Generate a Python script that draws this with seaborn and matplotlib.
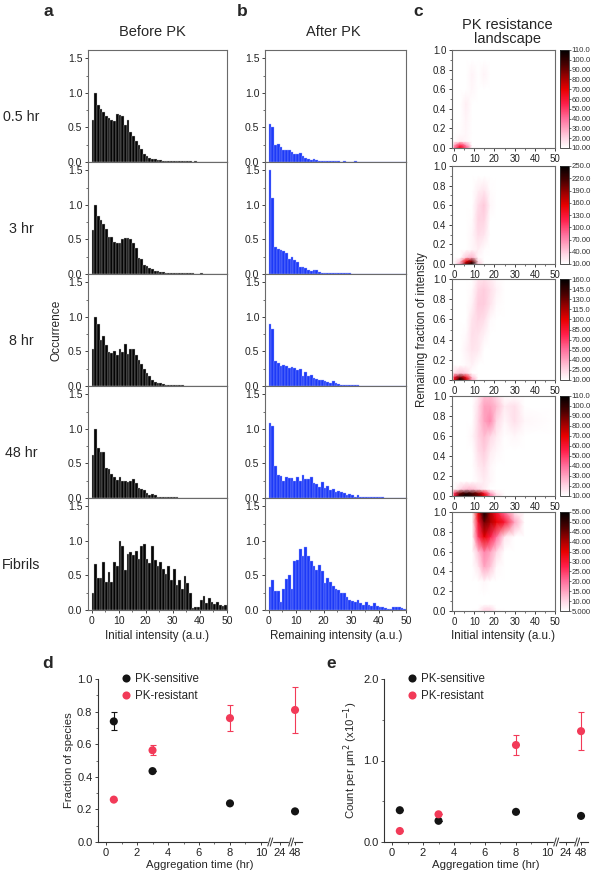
import matplotlib
matplotlib.use("Agg")
import matplotlib.pyplot as plt
import numpy as np
import pandas as pd
import seaborn as sns
from matplotlib.colors import LinearSegmentedColormap, Normalize
from matplotlib.ticker import MultipleLocator, FixedLocator
import matplotlib.transforms as mtransforms

# ---------------- data ----------------
row_labels = ["0.5 hr", "3 hr", "8 hr", "48 hr", "Fibrils"]
bin_left = list(range(0, 50))   # 1 a.u. wide bins, 0..50

before_05 = [0.61, 1.00, 0.82, 0.76, 0.72, 0.66, 0.63, 0.61, 0.59, 0.70, 0.68, 0.66, 0.54, 0.61, 0.44, 0.37, 0.30,
             0.25, 0.19, 0.11, 0.08, 0.06, 0.05, 0.04, 0.03, 0.03, 0.02, 0.02, 0.02, 0.02, 0.015, 0.01, 0.015, 0.01,
             0.01, 0.01, 0.01, 0.005, 0.01, 0.005, 0.005, 0.005, 0.005, 0.004, 0.004, 0.003, 0.003, 0.003, 0.002, 0.002]
before_3 = [0.64, 1.00, 0.84, 0.78, 0.72, 0.65, 0.54, 0.54, 0.47, 0.45, 0.45, 0.51, 0.52, 0.52, 0.51, 0.45, 0.38,
            0.23, 0.21, 0.13, 0.11, 0.08, 0.07, 0.05, 0.04, 0.03, 0.03, 0.02, 0.02, 0.02, 0.015, 0.015, 0.01, 0.01,
            0.01, 0.01, 0.01, 0.01, 0.005, 0.005, 0.01, 0.005, 0.005, 0.005, 0.005, 0.005, 0.003, 0.003, 0.003, 0.003]
before_8 = [0.54, 1.00, 0.89, 0.66, 0.72, 0.60, 0.49, 0.48, 0.51, 0.45, 0.53, 0.49, 0.61, 0.46, 0.53, 0.54, 0.45,
            0.38, 0.32, 0.25, 0.19, 0.14, 0.09, 0.06, 0.05, 0.04, 0.03, 0.02, 0.02, 0.015, 0.01, 0.01, 0.01, 0.008,
            0.005, 0.005, 0.005, 0.004, 0.004, 0.003, 0.003, 0.003, 0.002, 0.002, 0.002, 0.002, 0.001, 0.001, 0.001, 0.001]
before_48 = [0.62, 1.00, 0.72, 0.66, 0.66, 0.44, 0.42, 0.35, 0.30, 0.26, 0.31, 0.25, 0.25, 0.23, 0.24, 0.28, 0.22,
             0.14, 0.13, 0.12, 0.07, 0.05, 0.06, 0.04, 0.02, 0.02, 0.015, 0.01, 0.01, 0.01, 0.01, 0.008, 0.006, 0.005,
             0.005, 0.004, 0.004, 0.003, 0.003, 0.003, 0.002, 0.002, 0.002, 0.002, 0.001, 0.001, 0.001, 0.001, 0.001, 0.001]
before_fib = [0.24, 0.67, 0.47, 0.47, 0.70, 0.41, 0.55, 0.41, 0.70, 0.63, 1.00, 0.92, 0.58, 0.81, 0.84, 0.80, 0.86,
              0.74, 0.93, 0.96, 0.74, 0.68, 0.93, 0.72, 0.64, 0.69, 0.59, 0.52, 0.63, 0.43, 0.59, 0.36, 0.44, 0.30,
              0.49, 0.39, 0.24, 0.03, 0.04, 0.04, 0.14, 0.20, 0.10, 0.18, 0.12, 0.08, 0.11, 0.07, 0.06, 0.07]

after_05 = [0.55, 0.51, 0.25, 0.26, 0.21, 0.18, 0.17, 0.18, 0.15, 0.12, 0.11, 0.13, 0.08, 0.06, 0.05, 0.03, 0.05,
            0.03, 0.02, 0.02, 0.01, 0.01, 0.02, 0.01, 0.01, 0.01, 0.005, 0.01, 0.005, 0.005, 0.005, 0.01, 0.005,
            0.005, 0.005, 0.003, 0.003, 0.005, 0.003, 0.003, 0.003, 0.003, 0.002, 0.002, 0.002, 0.002, 0.002, 0.002, 0.002, 0.002]
after_3 = [1.51, 1.10, 0.39, 0.36, 0.35, 0.33, 0.30, 0.21, 0.24, 0.20, 0.17, 0.10, 0.10, 0.09, 0.06, 0.05, 0.06,
           0.06, 0.03, 0.02, 0.02, 0.02, 0.015, 0.01, 0.01, 0.01, 0.01, 0.01, 0.008, 0.008, 0.006, 0.006, 0.005,
           0.005, 0.005, 0.004, 0.004, 0.003, 0.003, 0.003, 0.003, 0.002, 0.002, 0.002, 0.002, 0.002, 0.001, 0.001, 0.001, 0.001]
after_8 = [0.90, 0.83, 0.36, 0.33, 0.29, 0.30, 0.29, 0.26, 0.28, 0.26, 0.23, 0.25, 0.15, 0.20, 0.14, 0.16, 0.12,
           0.10, 0.09, 0.09, 0.07, 0.06, 0.04, 0.07, 0.04, 0.03, 0.02, 0.02, 0.015, 0.01, 0.01, 0.01, 0.008, 0.006,
           0.005, 0.005, 0.004, 0.004, 0.003, 0.003, 0.003, 0.002, 0.002, 0.002, 0.002, 0.002, 0.001, 0.001, 0.001, 0.001]
after_48 = [1.08, 1.04, 0.47, 0.33, 0.32, 0.25, 0.30, 0.29, 0.29, 0.24, 0.30, 0.25, 0.33, 0.27, 0.28, 0.30, 0.21,
            0.20, 0.16, 0.23, 0.14, 0.17, 0.11, 0.13, 0.09, 0.10, 0.09, 0.07, 0.05, 0.06, 0.04, 0.02, 0.04, 0.02,
            0.02, 0.01, 0.02, 0.01, 0.01, 0.01, 0.008, 0.008, 0.006, 0.006, 0.005, 0.005, 0.004, 0.004, 0.003, 0.003]
after_fib = [0.33, 0.43, 0.28, 0.28, 0.12, 0.31, 0.45, 0.51, 0.31, 0.71, 0.73, 0.88, 0.78, 0.91, 0.78, 0.71, 0.64,
             0.58, 0.65, 0.57, 0.39, 0.47, 0.41, 0.34, 0.30, 0.29, 0.24, 0.25, 0.19, 0.15, 0.13, 0.11, 0.14, 0.10,
             0.07, 0.11, 0.07, 0.06, 0.10, 0.06, 0.05, 0.04, 0.03, 0.02, 0.02, 0.05, 0.04, 0.04, 0.03, 0.02]

before_rows = [before_05, before_3, before_8, before_48, before_fib]
after_rows = [after_05, after_3, after_8, after_48, after_fib]

# PK resistance landscape: coarse grid (counts)
land_x = [0, 3, 6, 9, 12, 15, 18, 21, 25, 30, 35, 50]
land_y = [0, 0.03, 0.07, 0.15, 0.3, 0.45, 0.6, 0.75, 0.9, 1.0]
land_05 = [
    [40, 65, 45, 12, 0, 0, 0, 0, 0, 0, 0, 0],
    [30, 55, 35, 10, 0, 0, 0, 0, 0, 0, 0, 0],
    [8, 14, 12, 0, 0, 0, 0, 0, 0, 0, 0, 0],
    [0, 11, 12, 0, 0, 0, 0, 0, 0, 0, 0, 0],
    [0, 0, 13, 0, 0, 0, 0, 0, 0, 0, 0, 0],
    [0, 0, 14, 0, 0, 0, 0, 0, 0, 0, 0, 0],
    [0, 0, 9, 12, 0, 0, 0, 0, 0, 0, 0, 0],
    [0, 0, 0, 13, 0, 13, 0, 0, 0, 0, 0, 0],
    [0, 0, 0, 0, 0, 0, 0, 0, 0, 0, 0, 0],
    [0, 0, 0, 0, 0, 0, 0, 0, 0, 0, 0, 0],
]
land_3 = [
    [0, 60, 200, 245, 40, 0, 0, 0, 0, 0, 0, 0],
    [0, 40, 150, 200, 30, 0, 0, 0, 0, 0, 0, 0],
    [0, 10, 40, 50, 15, 0, 0, 0, 0, 0, 0, 0],
    [0, 0, 0, 15, 20, 12, 0, 0, 0, 0, 0, 0],
    [0, 0, 0, 15, 30, 25, 0, 0, 0, 0, 0, 0],
    [0, 0, 0, 12, 35, 35, 0, 0, 0, 0, 0, 0],
    [0, 0, 0, 0, 30, 40, 15, 0, 0, 0, 0, 0],
    [0, 0, 0, 0, 20, 25, 12, 0, 0, 0, 0, 0],
    [0, 0, 0, 0, 0, 0, 0, 0, 0, 0, 0, 0],
    [0, 0, 0, 0, 0, 0, 0, 0, 0, 0, 0, 0],
]
land_8 = [
    [100, 160, 110, 40, 0, 0, 0, 0, 0, 0, 0, 0],
    [80, 130, 90, 30, 0, 0, 0, 0, 0, 0, 0, 0],
    [20, 30, 25, 10, 0, 0, 0, 0, 0, 0, 0, 0],
    [0, 0, 12, 15, 0, 0, 0, 0, 0, 0, 0, 0],
    [0, 0, 15, 20, 18, 0, 0, 0, 0, 0, 0, 0],
    [0, 0, 12, 22, 20, 15, 0, 0, 0, 0, 0, 0],
    [0, 0, 0, 20, 25, 22, 12, 0, 0, 0, 0, 0],
    [0, 0, 0, 15, 28, 28, 20, 12, 0, 0, 0, 0],
    [0, 0, 0, 12, 25, 28, 22, 15, 0, 0, 0, 0],
    [0, 0, 0, 0, 20, 22, 18, 12, 0, 0, 0, 0],
]
land_48 = [
    [60, 100, 110, 100, 90, 70, 40, 20, 0, 0, 0, 0],
    [50, 90, 100, 95, 85, 60, 30, 15, 0, 0, 0, 0],
    [10, 20, 25, 25, 20, 15, 10, 0, 0, 0, 0, 0],
    [0, 0, 0, 0, 12, 15, 12, 0, 0, 0, 0, 0],
    [0, 0, 0, 0, 15, 18, 12, 0, 0, 0, 0, 0],
    [0, 0, 0, 0, 18, 22, 15, 12, 0, 0, 0, 0],
    [0, 0, 0, 12, 20, 25, 20, 15, 0, 12, 0, 0],
    [0, 0, 0, 0, 20, 30, 35, 20, 12, 18, 12, 0],
    [0, 0, 0, 0, 18, 30, 30, 25, 15, 18, 0, 0],
    [0, 0, 0, 0, 15, 25, 25, 20, 10, 0, 0, 0],
]
land_fib = [
    [0, 0, 0, 0, 6, 10, 10, 6, 0, 0, 0, 0],
    [0, 0, 0, 0, 5, 9, 9, 5, 0, 0, 0, 0],
    [0, 0, 0, 0, 0, 0, 0, 0, 0, 0, 0, 0],
    [0, 0, 0, 0, 0, 0, 0, 0, 0, 0, 0, 0],
    [0, 0, 0, 0, 0, 6, 0, 0, 0, 0, 0, 0],
    [0, 0, 0, 0, 8, 15, 12, 6, 0, 0, 0, 0],
    [0, 0, 0, 0, 12, 18, 15, 10, 0, 0, 0, 0],
    [0, 0, 0, 0, 25, 35, 28, 20, 8, 0, 0, 0],
    [0, 0, 0, 0, 30, 45, 40, 35, 30, 15, 0, 0],
    [0, 0, 0, 0, 35, 55, 40, 30, 20, 8, 0, 0],
]
land_rows = [land_05, land_3, land_8, land_48, land_fib]
cbar_ranges = [(10, 110, 10), (10, 250, 30), (10, 160, 15), (10, 110, 10), (5, 55, 5)]

# panel d / e
time_hr = [0.5, 3, 8, 48]
frac_sensitive = [0.74, 0.435, 0.237, 0.188]
frac_sensitive_err = [0.055, 0.0, 0.0, 0.0]
frac_resistant = [0.26, 0.563, 0.76, 0.81]
frac_resistant_err = [0.0, 0.03, 0.078, 0.14]
count_sensitive = [0.39, 0.26, 0.37, 0.32]
count_sensitive_err = [0.0, 0.0, 0.0, 0.0]
count_resistant = [0.135, 0.34, 1.19, 1.36]
count_resistant_err = [0.0, 0.0, 0.12, 0.23]
time_ticks = [0, 2, 4, 6, 8, 10, 24, 48]
broken_pos = {24: 11.2, 48: 12.2}   # positions of the compressed long times on the broken axis

# ---------------- style ----------------
sns.set_theme(style="ticks")
plt.rcParams["font.family"] = ["Liberation Sans", "DejaVu Sans"]
plt.rcParams.update({
    "axes.edgecolor": "#555555", "axes.linewidth": 0.8,
    "xtick.color": "#333333", "ytick.color": "#333333",
    "xtick.direction": "out", "ytick.direction": "out",
})

W, H = 592, 877
fig = plt.figure(figsize=(W / 100, H / 100), dpi=100, facecolor="white")


def px_box(x0, y0, x1, y1):
    return [x0 / W, 1 - y1 / H, (x1 - x0) / W, (y1 - y0) / H]


def t_pos(t):
    return broken_pos.get(t, t)


def style_ticks(ax, size=7.5):
    ax.tick_params(which="major", length=2.5, width=0.6, labelsize=size, pad=1.5, colors="#222222")
    ax.tick_params(which="minor", length=1.5, width=0.5)


def draw_hist(ax, values, face, edge, last):
    df = pd.DataFrame({"x": [b + 0.5 for b in bin_left], "w": values})
    sns.histplot(data=df, x="x", weights="w", bins=50, binrange=(0, 50), ax=ax, color=face,
                 edgecolor=edge, linewidth=0.25, alpha=1)
    ax.set_xlim(-1.3, 50)
    ax.set_ylim(0, 1.62)
    ax.set_ylabel("")
    ax.set_xlabel("")
    ax.yaxis.set_major_locator(FixedLocator([0, 0.5, 1.0, 1.5]))
    ax.yaxis.set_minor_locator(MultipleLocator(0.25))
    ax.yaxis.set_major_formatter(plt.FuncFormatter(lambda v, p: f"{v:.1f}"))
    ax.xaxis.set_major_locator(MultipleLocator(10))
    ax.xaxis.set_minor_locator(MultipleLocator(5))
    style_ticks(ax)
    if not last:
        ax.set_xticklabels([])
    for s in ax.spines.values():
        s.set_color("#6a6a6a")


# ---------------- panels a & b ----------------
row_tops = [50, 162, 274, 386, 498]
for i, top in enumerate(row_tops):
    last = i == len(row_tops) - 1
    ax_a = fig.add_axes(px_box(88, top, 227, top + 112))
    draw_hist(ax_a, before_rows[i], "#050505", "#c4c4c4", last)
    ax_b = fig.add_axes(px_box(265, top, 406, top + 112))
    draw_hist(ax_b, after_rows[i], "#1d3af7", "#9aa8ff", last)
    fig.text(21 / W, 1 - (top + 67) / H, row_labels[i], ha="center", va="center", fontsize=10.3)

fig.text(57 / W, 1 - 330 / H, "Occurrence", rotation=90, ha="center", va="center", fontsize=8.6)
fig.text(157 / W, 1 - 636 / H, "Initial intensity (a.u.)", ha="center", va="center", fontsize=8.4)
fig.text(336 / W, 1 - 636 / H, "Remaining intensity (a.u.)", ha="center", va="center", fontsize=8.4)
fig.text(152 / W, 1 - 32 / H, "Before PK", ha="center", va="center", fontsize=10.5)
fig.text(333 / W, 1 - 32 / H, "After PK", ha="center", va="center", fontsize=10.5)

# ---------------- panel c ----------------
cmap = LinearSegmentedColormap.from_list("pk", [
    (0.0, "#ffffff"), (0.1, "#ffd6e4"), (0.3, "#ff6f9c"), (0.45, "#ff1f4a"),
    (0.6, "#e80000"), (0.72, "#a00000"), (0.85, "#4a0000"), (1.0, "#000000")])
cmap.set_under("white")

c_rows = [(50, 148), (166, 264), (279, 380), (396, 496), (512, 611)]
for i, (top, bot) in enumerate(c_rows):
    ax = fig.add_axes(px_box(452, top, 555, bot))
    lo, hi, step = cbar_ranges[i]
    norm = Normalize(vmin=lo, vmax=hi)
    mesh = ax.pcolormesh(land_x, land_y, np.array(land_rows[i], dtype=float),
                         shading="gouraud", cmap=cmap, norm=norm, rasterized=True)
    ax.set_xlim(-1, 50)
    ax.set_ylim(0, 1.0)
    ax.xaxis.set_major_locator(MultipleLocator(10))
    ax.xaxis.set_minor_locator(MultipleLocator(5))
    ax.yaxis.set_major_locator(MultipleLocator(0.2))
    ax.yaxis.set_minor_locator(MultipleLocator(0.1))
    ax.yaxis.set_major_formatter(plt.FuncFormatter(lambda v, p: f"{v:.1f}"))
    style_ticks(ax, 7)
    for s in ax.spines.values():
        s.set_color("#6a6a6a")
    cax = fig.add_axes(px_box(560, top, 569, bot))
    ticks = np.arange(lo, hi + step / 2, step)
    cb = fig.colorbar(mesh, cax=cax, ticks=ticks)
    cb.ax.set_yticklabels([f"{v:#.4g}" for v in ticks])
    cb.ax.tick_params(labelsize=5.6, length=1.5, width=0.5, pad=0.5)
    cb.outline.set_linewidth(0.6)
    cb.outline.set_edgecolor("#333333")

fig.text(422 / W, 1 - 330 / H, "Remaining fraction of intensity", rotation=90, ha="center", va="center", fontsize=8.3)
fig.text(503 / W, 1 - 636 / H, "Initial intensity (a.u.)", ha="center", va="center", fontsize=8.4)
fig.text(507 / W, 1 - 32 / H, "PK resistance\nlandscape", ha="center", va="center", fontsize=10.5, linespacing=1.0)

# ---------------- panels d & e ----------------
BLACK, RED = "#141414", "#f23a58"


def draw_time_panel(ax, sens, sens_err, res, res_err, ylim, ymajor, yminor, ylabel, yfmt):
    xpos = [t_pos(t) for t in time_hr]
    df = pd.DataFrame({
        "x": xpos * 2,
        "y": sens + res,
        "species": ["PK-sensitive"] * len(xpos) + ["PK-resistant"] * len(xpos),
    })
    ax.errorbar(xpos, sens, yerr=sens_err, fmt="none", ecolor=BLACK, elinewidth=0.8, capsize=2, capthick=0.8)
    ax.errorbar(xpos, res, yerr=res_err, fmt="none", ecolor=RED, elinewidth=0.8, capsize=2, capthick=0.8)
    sns.scatterplot(data=df, x="x", y="y", hue="species", palette=[BLACK, RED], s=34,
                    edgecolor="none", ax=ax, zorder=3)
    h, l = ax.get_legend_handles_labels()
    ax.legend(h, l, loc="upper left", bbox_to_anchor=(0.085, 1.065), frameon=False, fontsize=8.3,
              handletextpad=0.3, labelspacing=0.4, borderaxespad=0, handlelength=1.0)
    ax.set_xlim(-0.52, 12.65)
    ax.set_ylim(*ylim)
    ax.set_xticks([t_pos(t) for t in time_ticks])
    ax.set_xticklabels([str(t) for t in time_ticks])
    ax.xaxis.set_minor_locator(FixedLocator([1, 3, 5, 7, 9]))
    ax.yaxis.set_major_locator(MultipleLocator(ymajor))
    ax.yaxis.set_minor_locator(MultipleLocator(yminor))
    ax.yaxis.set_major_formatter(plt.FuncFormatter(lambda v, p: yfmt.format(v)))
    style_ticks(ax, 8)
    ax.set_xlabel("Aggregation time (hr)", fontsize=8.2, labelpad=2)
    ax.set_ylabel(ylabel, fontsize=8.2, labelpad=2)
    sns.despine(ax=ax)
    for s in ax.spines.values():
        s.set_color("#333333")
    trans = mtransforms.blended_transform_factory(ax.transData, ax.transAxes)
    for bx in (10.6, 11.95):
        ax.plot([bx - 0.06, bx + 0.06], [0, 0], color="white", lw=2.5, transform=trans, clip_on=False, zorder=5)
        for dx in (-0.08, 0.08):
            ax.plot([bx + dx - 0.08, bx + dx + 0.08], [-0.025, 0.025], color="#333333", lw=0.7,
                    transform=trans, clip_on=False, zorder=6)


ax_d = fig.add_axes(px_box(98, 679, 302, 842))
draw_time_panel(ax_d, frac_sensitive, frac_sensitive_err, frac_resistant, frac_resistant_err,
                (0, 1.0), 0.2, 0.1, "Fraction of species", "{:.1f}")
ax_e = fig.add_axes(px_box(384, 679, 588, 842))
draw_time_panel(ax_e, count_sensitive, count_sensitive_err, count_resistant, count_resistant_err,
                (0, 2.0), 1.0, 0.5, "Count per μm$^2$ (x10$^{-1}$)", "{:.1f}")

# panel letters
for letter, x, y in [("a", 48, 11), ("b", 242, 11), ("c", 418, 11), ("d", 48, 664), ("e", 331, 664)]:
    fig.text(x / W, 1 - y / H, letter, ha="center", va="center", fontsize=12.5, fontweight="bold")

fig.savefig("out.png", dpi=100, facecolor="white")
